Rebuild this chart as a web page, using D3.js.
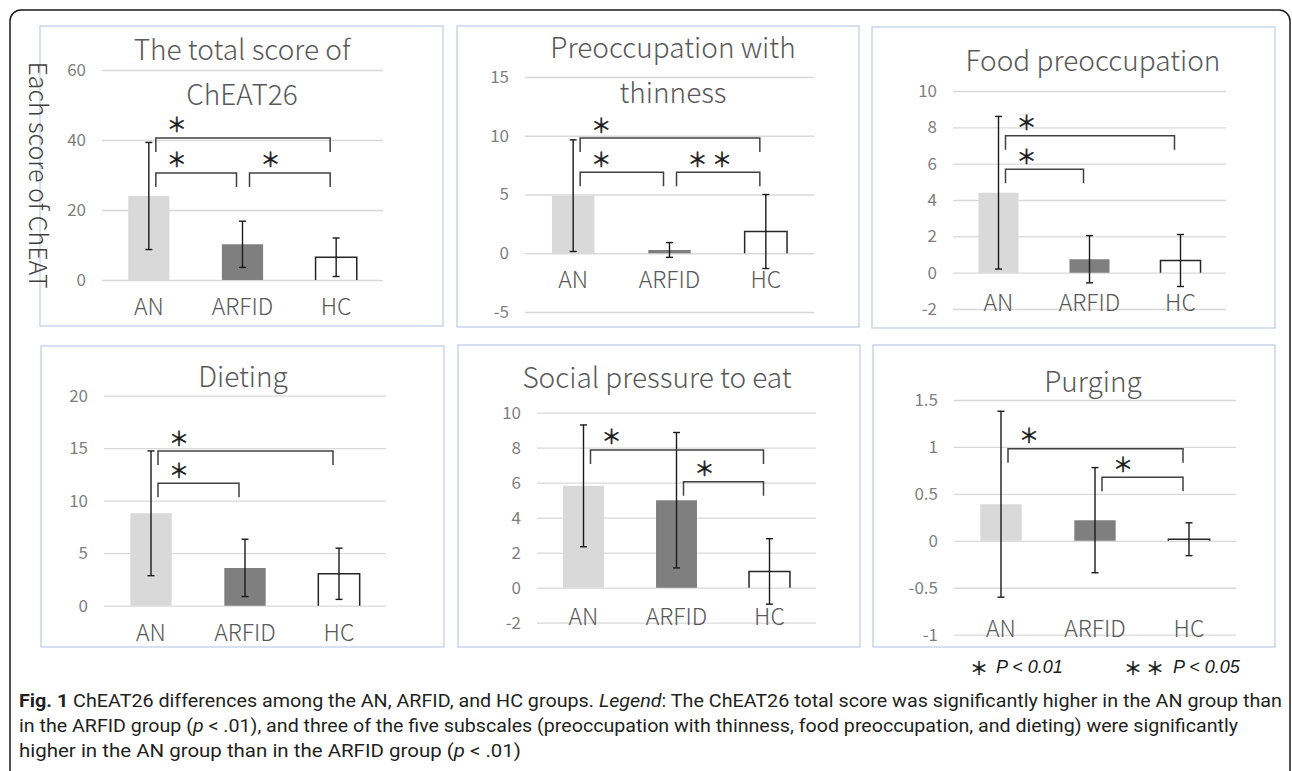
<!DOCTYPE html>
<html>
<head>
<meta charset="utf-8">
<script src="https://cdn.jsdelivr.net/npm/d3@7"></script>
<style>
  body { margin: 0; background: #fff; }
  svg { display: block; }
</style>
</head>
<body>
<svg id="fig" width="1292" height="771"></svg>
<script>
// data
const groups = ['AN', 'ARFID', 'HC'];
const titles = [
  ['The total score of', 'ChEAT26'],
  ['Preoccupation with', 'thinness'],
  ['Food preoccupation'],
  ['Dieting'],
  ['Social pressure to eat'],
  ['Purging']
];
const means = [
  [24.0, 10.2, 6.5],
  [4.9, 0.28, 1.85],
  [4.4, 0.74, 0.67],
  [8.8, 3.6, 3.04],
  [5.82, 5.0, 0.93],
  [0.39, 0.22, 0.017]
];
const sds = [
  [15.3, 6.6, 5.5],
  [4.75, 0.63, 3.15],
  [4.2, 1.3, 1.43],
  [5.94, 2.73, 2.44],
  [3.48, 3.87, 1.87],
  [0.99, 0.56, 0.175]
];
const yDomains = [[0, 60], [-5, 15], [-2, 10], [0, 20], [-2, 10], [-1, 1.5]];
const yTickSteps = [20, 5, 2, 5, 2, 0.5];
// [from group, to group, bracket level, mark]
const brackets = [
  [[0, 2, 40.6, '＊'], [0, 1, 30.6, '＊'], [1, 2, 30.6, '＊']],
  [[0, 2, 9.8, '＊'], [0, 1, 6.9, '＊'], [1, 2, 6.9, '＊ ＊']],
  [[0, 2, 7.53, '＊'], [0, 1, 5.69, '＊']],
  [[0, 2, 14.73, '＊'], [0, 1, 11.66, '＊']],
  [[0, 2, 7.87, '＊'], [1, 2, 6.06, '＊']],
  [[0, 2, 0.98, '＊'], [1, 2, 0.676, '＊']]
];
const yAxisTitle = 'Each score of ChEAT';
const legendMarks = ['＊', '＊ ＊'];
const legendTexts = ['P < 0.01', 'P < 0.05'];
const captionLines = [
  [['Fig. 1', 'b'], [' ChEAT26 differences among the AN, ARFID, and HC groups. ', ''], ['Legend', 'i'],
   [': The ChEAT26 total score was significantly higher in the AN group than', '']],
  [['in the ARFID group (', ''], ['p', 'i'], [' < .01), and three of the five subscales (preoccupation with thinness, food preoccupation, and dieting) were significantly', '']],
  [['higher in the AN group than in the ARFID group (', ''], ['p', 'i'], [' < .01)', '']]
];

// layout
const FONT = "'Noto Sans CJK JP', 'Noto Sans', sans-serif";
const barStyles = [
  { fill: '#d9d9d9', stroke: 'none' },
  { fill: '#7f7f7f', stroke: 'none' },
  { fill: 'none', stroke: '#262626' }
];
const panels = [
  { box: [40, 26, 403, 300], plot: [102, 383, 70, 280], titleX: 242, titleY: [60, 105], labels: 'axis' },
  { box: [457, 26, 402, 301], plot: [525, 814, 77, 312], titleX: 673, titleY: [58, 103], labels: 'axis' },
  { box: [872, 27, 403, 301], plot: [953, 1226, 91, 309], titleX: 1093, titleY: [71], labels: 'low' },
  { box: [41, 346, 403, 301], plot: [104, 386, 395.7, 605.7], titleX: 243, titleY: [387], labels: 'axis' },
  { box: [458, 345, 402, 302], plot: [537, 816, 412.7, 622.7], titleX: 657, titleY: [388], labels: 'low' },
  { box: [873, 345, 402, 302], plot: [954, 1236, 400, 634.7], titleX: 1093, titleY: [392], labels: 'low' }
];

const svg = d3.select('#fig');
svg.append('rect').attr('width', 1292).attr('height', 771).attr('fill', '#fff');

// outer frame
svg.append('rect')
  .attr('x', 10).attr('y', 10).attr('width', 1280).attr('height', 820)
  .attr('rx', 11)
  .attr('fill', 'none').attr('stroke', '#1a1a1a').attr('stroke-width', 1.5);

panels.forEach((p, i) => {
  const g = svg.append('g');
  g.append('rect')
    .attr('x', p.box[0]).attr('y', p.box[1])
    .attr('width', p.box[2]).attr('height', p.box[3])
    .attr('fill', '#fff').attr('stroke', '#b9cbe6').attr('stroke-width', 1.2);

  const x = d3.scaleBand().domain(groups)
    .range([p.plot[0], p.plot[1]])
    .paddingInner(0.56).paddingOuter(0.28);
  const [lo, hi] = yDomains[i];
  const y = d3.scaleLinear().domain(yDomains[i]).range([p.plot[3], p.plot[2]]);
  const step = yTickSteps[i];
  const ticks = d3.range(lo, hi + step / 2, step).map(v => +v.toFixed(3));

  const axis = g.append('g')
    .attr('transform', `translate(${p.plot[0]},0)`)
    .call(d3.axisLeft(y).tickValues(ticks).tickFormat(d => String(d))
      .tickSizeInner(-(p.plot[1] - p.plot[0])).tickSizeOuter(0).tickPadding(16));
  axis.select('.domain').remove();
  axis.selectAll('.tick line').attr('stroke', '#d9d9d9').attr('stroke-width', 1.3);
  axis.selectAll('.tick text')
    .attr('fill', '#7f7f7f')
    .style('font-family', FONT).style('font-size', '17px');

  // title
  titles[i].forEach((t, k) => {
    g.append('text')
      .attr('x', p.titleX).attr('y', p.titleY[k])
      .attr('text-anchor', 'middle')
      .attr('fill', '#595959')
      .style('font-family', FONT).style('font-size', '28px').style('font-weight', 300)
      .text(t);
  });

  const rows = groups.map((name, j) => ({ name, m: means[i][j], s: sds[i][j], st: barStyles[j] }));
  const bw = x.bandwidth();

  g.selectAll('path.bar').data(rows).join('path')
    .attr('class', 'bar')
    .attr('d', d => {
      const x0 = x(d.name), y0 = y(0), y1 = y(d.m);
      return d.st.fill === 'none'
        ? `M${x0},${y0}V${y1}H${x0 + bw}V${y0}`
        : `M${x0},${y0}V${y1}H${x0 + bw}V${y0}Z`;
    })
    .attr('fill', d => d.st.fill)
    .attr('stroke', d => d.st.stroke)
    .attr('stroke-width', 1.5);

  // error bars
  const eb = g.selectAll('g.err').data(rows).join('g').attr('class', 'err')
    .attr('stroke', '#1a1a1a').attr('stroke-width', 1.4);
  eb.append('line')
    .attr('x1', d => x(d.name) + bw / 2).attr('x2', d => x(d.name) + bw / 2)
    .attr('y1', d => y(d.m - d.s)).attr('y2', d => y(d.m + d.s));
  [-1, 1].forEach(sg => {
    eb.append('line')
      .attr('x1', d => x(d.name) + bw / 2 - 3.5).attr('x2', d => x(d.name) + bw / 2 + 3.5)
      .attr('y1', d => y(d.m + sg * d.s)).attr('y2', d => y(d.m + sg * d.s));
  });

  // category labels
  const labelY = p.labels === 'axis' ? y(0) + 35 : y(lo) + 2;
  g.selectAll('text.cat').data(groups).join('text')
    .attr('class', 'cat')
    .attr('x', d => x(d) + bw / 2).attr('y', labelY)
    .attr('text-anchor', 'middle')
    .attr('fill', '#595959')
    .style('font-family', FONT).style('font-size', '23px').style('font-weight', 300)
    .text(d => d);

  // significance brackets
  brackets[i].forEach(([a, b, lev, mark]) => {
    const xs = x(groups[a]) + bw / 2 + 7;
    const xe = x(groups[b]) + bw / 2 - 6;
    const yy = y(lev);
    g.append('path')
      .attr('d', `M${xs},${yy + 14}V${yy}H${xe}V${yy + 14}`)
      .attr('fill', 'none').attr('stroke', '#404040').attr('stroke-width', 1.5);
    g.append('text')
      .attr('x', xs + 11).attr('y', yy - 14)
      .attr('dominant-baseline', 'central')
      .attr('fill', '#1a1a1a').attr('stroke', '#1a1a1a').attr('stroke-width', 0.5)
      .style('font-family', FONT).style('font-size', '20px')
      .text(mark);
  });
});

// shared y axis title
svg.append('text')
  .attr('transform', 'translate(29,175) rotate(90)')
  .attr('text-anchor', 'middle')
  .attr('fill', '#404040')
  .style('font-family', FONT).style('font-size', '25px').style('font-weight', 300)
  .text(yAxisTitle);

// significance legend
const legX = [[979, 996], [1144, 1173]];
legendMarks.forEach((m, k) => {
  svg.append('text')
    .attr('x', legX[k][0]).attr('y', 667)
    .attr('text-anchor', 'middle').attr('dominant-baseline', 'central')
    .attr('fill', '#1a1a1a').attr('stroke', '#1a1a1a').attr('stroke-width', 0.5)
    .style('font-family', FONT).style('font-size', '18px')
    .text(m);
  svg.append('text')
    .attr('x', legX[k][1]).attr('y', 673)
    .attr('fill', '#1a1a1a')
    .style('font-family', "'Liberation Sans', Arial, sans-serif")
    .style('font-size', '18px').style('font-style', 'italic')
    .text(legendTexts[k]);
});

// caption
const capWidths = [1263, 1219, 502];
captionLines.forEach((segs, k) => {
  const t = svg.append('text')
    .attr('x', 19).attr('y', 707 + k * 25)
    .attr('textLength', capWidths[k])
    .attr('lengthAdjust', 'spacingAndGlyphs')
    .attr('fill', '#231f20')
    .style('font-family', "Roboto, 'Noto Sans', sans-serif")
    .style('font-size', '18.5px');
  segs.forEach(([s, st]) => {
    t.append('tspan')
      .style('font-weight', st === 'b' ? 700 : 400)
      .style('font-style', st === 'i' ? 'italic' : 'normal')
      .text(s);
  });
});
</script>
</body>
</html>
